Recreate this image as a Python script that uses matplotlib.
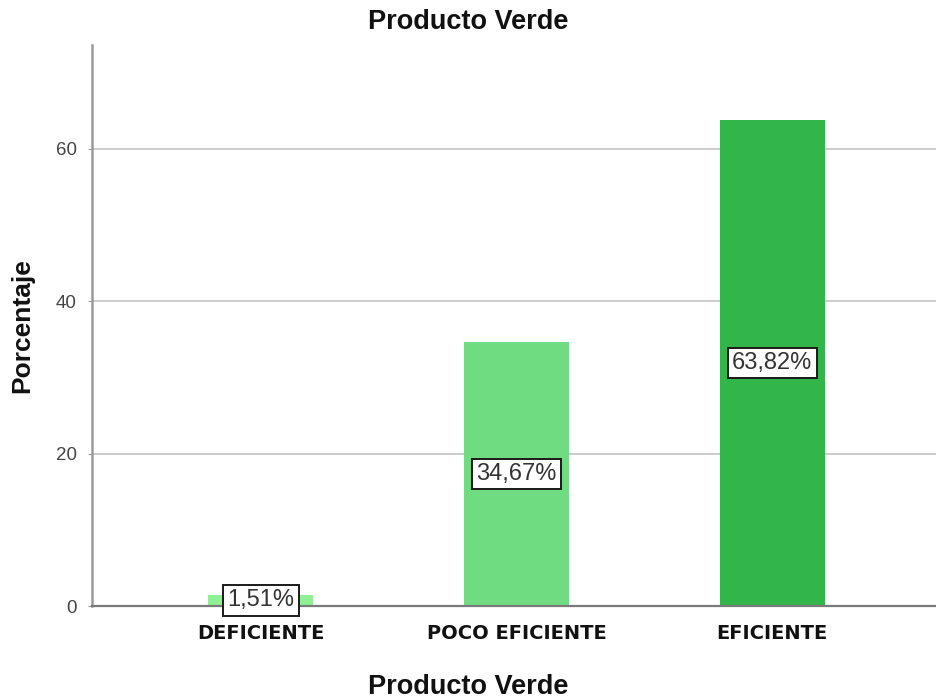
import matplotlib
matplotlib.use("Agg")
import matplotlib.pyplot as plt

categories = ["DEFICIENTE", "POCO EFICIENTE", "EFICIENTE"]
percentages = [1.51, 34.67, 63.82]
value_labels = ["1,51%", "34,67%", "63,82%"]
bar_colors = ["#8ff095", "#6fdc82", "#33b649"]
y_ticks = [0, 20, 40, 60]

fig = plt.figure(figsize=(9.36, 6.99), dpi=100)
ax = fig.add_axes([0.0983, 0.133, 0.9017, 0.8027])

x = list(range(len(categories)))
ax.bar(x, percentages, width=0.41, color=bar_colors, zorder=3)

for xi, v, lab in zip(x, percentages, value_labels):
    ax.text(xi, v / 2, lab, ha="center", va="center", fontsize=17,
            family="Liberation Sans", color="#333333", zorder=5,
            bbox=dict(boxstyle="square,pad=0.18", facecolor="white",
                      edgecolor="#1a1a1a", linewidth=1.4))

ax.set_xlim(-0.66, 2.64)
ax.set_ylim(0, 73.6)
ax.set_yticks(y_ticks)
ax.set_yticklabels([str(t) for t in y_ticks], family="Liberation Sans",
                   fontsize=13.5, color="#444444")
ax.set_xticks(x)
ax.set_xticklabels(categories, family="DejaVu Sans", fontweight="bold",
                   fontsize=14, color="#111111")
ax.tick_params(axis="y", length=3, color="#999999", pad=8)
ax.tick_params(axis="x", length=0, pad=13)

ax.grid(axis="y", color="#c4c4c4", linewidth=1.2, zorder=0)
ax.set_axisbelow(True)
for side in ["top", "right"]:
    ax.spines[side].set_visible(False)
ax.spines["left"].set_color("#9a9a9a")
ax.spines["left"].set_linewidth(1.8)
ax.spines["bottom"].set_color("#7a7a7a")
ax.spines["bottom"].set_linewidth(1.6)
ax.spines["bottom"].set_zorder(4)

fig.text(0.5, 1 - 22 / 699, "Producto Verde", ha="center", va="center",
         family="Liberation Sans", fontweight="bold", fontsize=19.5,
         color="#111111")
fig.text(0.5, 1 - 694 / 699, "Producto Verde", ha="center", va="baseline",
         family="Liberation Sans", fontweight="bold", fontsize=19.5,
         color="#111111")
fig.text(22 / 936, 1 - 326 / 699, "Porcentaje", ha="center", va="center",
         rotation=90, family="Liberation Sans", fontweight="bold",
         fontsize=19, color="#111111")

fig.savefig("out.png", dpi=100, facecolor="white")
